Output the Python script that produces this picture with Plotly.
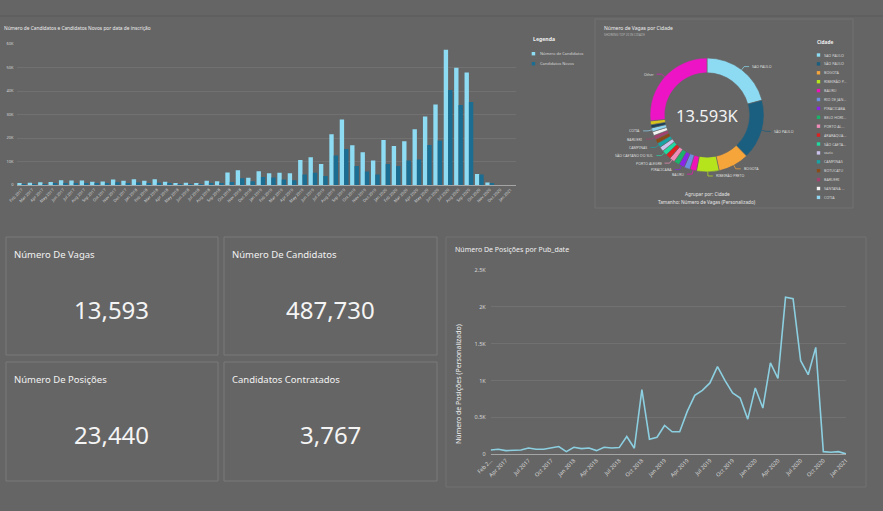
import math
import plotly.graph_objects as go

W, H = 883, 511
BG = "#656565"
FONT = "Noto Sans"
TXT = "#efefef"

# ---------------- data ----------------
months = ["Feb 2017", "Mar 2017", "Apr 2017", "May 2017", "Jun 2017", "Jul 2017", "Aug 2017", "Sep 2017",
          "Oct 2017", "Nov 2017", "Dec 2017", "Jan 2018", "Feb 2018", "Mar 2018", "Apr 2018", "May 2018",
          "Jun 2018", "Jul 2018", "Aug 2018", "Sep 2018", "Oct 2018", "Nov 2018", "Dec 2018", "Jan 2019",
          "Feb 2019", "Mar 2019", "Apr 2019", "May 2019", "Jun 2019", "Jul 2019", "Aug 2019", "Sep 2019",
          "Oct 2019", "Nov 2019", "Dec 2019", "Jan 2020", "Feb 2020", "Mar 2020", "Apr 2020", "May 2020",
          "Jun 2020", "Jul 2020", "Aug 2020", "Sep 2020", "Oct 2020", "Nov 2020", "Dec 2020", "Jan 2021"]

candidatos = [500, 1000, 1200, 1300, 2000, 1900, 1900, 1400, 1500, 2300, 1800, 2400, 1800, 2400, 1400, 800,
              1000, 600, 1800, 1600, 5300, 6300, 3100, 5900, 5000, 5200, 5000, 10600, 11800, 8900, 21600, 27900,
              16900, 13900, 10400, 19100, 16600, 18600, 23700, 29200, 34300, 57600, 49900, 47900, 4700, 1100, 0, 0]
novos = [200, 300, 400, 500, 800, 900, 900, 600, 700, 1200, 900, 1100, 900, 1000, 500, 300,
         300, 200, 700, 800, 1300, 2900, 1600, 3400, 3200, 2300, 2000, 4500, 5200, 3800, 12500, 15300,
         8100, 5700, 4500, 8900, 8100, 10400, 10900, 17000, 18900, 40400, 34000, 35300, 4500, 700, 0, 0]
bar_yticks = [0, 10000, 20000, 30000, 40000, 50000, 60000]
bar_yticktext = ["0", "10K", "20K", "30K", "40K", "50K", "60K"]

posicoes = [59, 68, 50, 59, 59, 86, 68, 68, 86, 105, 36, 95, 77, 86, 50, 95,
            86, 91, 241, 82, 877, 205, 232, 391, 305, 305, 582, 800, 868, 968, 1190, 1000,
            832, 764, 477, 900, 627, 1240, 1030, 2130, 2110, 1270, 1080, 1450, 36, 27, 36, 5]
line_xticks = ["Feb 2017", "Apr 2017", "Jul 2017", "Oct 2017", "Jan 2018", "Apr 2018", "Jul 2018", "Oct 2018",
               "Jan 2019", "Apr 2019", "Jul 2019", "Oct 2019", "Jan 2020", "Apr 2020", "Jul 2020", "Oct 2020",
               "Jan 2021"]
line_xticktext = ["Feb 2..."] + line_xticks[1:]
line_yticks = [0, 500, 1000, 1500, 2000, 2500]
line_yticktext = ["0", "0.5K", "1K", "1.5K", "2K", "2.5K"]

cidades = ["SAO PAULO", "SÃO PAULO", "BOGOTA", "RIBEIRÃO PRETO", "BAURU", "RIO DE JANEIRO", "PIRACICABA",
           "BELO HORIZONTE", "PORTO ALEGRE", "ARARAQUARA", "SÃO CAETANO DO SUL", "vazio", "CAMPINAS",
           "BOTUCATU", "BARUERI", "SANTANA DE PARNAÍBA", "COTIA", "CIDADE 18", "CIDADE 19", "Other"]
vagas = [2830, 2310, 1190, 870, 260, 230, 220, 215, 205, 195, 190, 180, 175, 165, 160, 155, 150, 120, 150, 3623]
cores = ["#8CDBF2", "#1A5F80", "#F5A53A", "#B6E41C", "#EE12B8", "#6D8FE2", "#8A24E6", "#1BB26C",
         "#F08CB8", "#DD2020", "#22D8A0", "#CBC2EE", "#18A4A4", "#8A4B17", "#A4426F", "#F2F2F2",
         "#90D6F0", "#173F5A", "#D9C41E", "#EC14C4"]
rotulos_fatia = ["SAO PAULO", "SÃO PAULO", "BOGOTA", "RIBEIRÃO PRETO", "BAURU", "PIRACICABA",
                 "PORTO ALEGRE", "SÃO CAETANO DO SUL", "CAMPINAS", "BARUERI", "COTIA", "Other"]
legenda_cidade = ["SAO PAULO", "SÃO PAULO", "BOGOTA", "RIBEIRÃO P...", "BAURU", "RIO DE JAN...", "PIRACICABA",
                  "BELO HORI...", "PORTO AL...", "ARARAQUA...", "SÃO CAETA...", "vazio", "CAMPINAS",
                  "BOTUCATU", "BARUERI", "SANTANA ...", "COTIA"]

kpi_titulos = ["Número De Vagas", "Número De Candidatos", "Número De Posições", "Candidatos Contratados"]
kpi_valores = ["13,593", "487,730", "23,440", "3,767"]

LIGHT = "#8DDCF4"
DARK = "#1B6D92"
LINEC = "#8CCFE0"


def px(x):
    return x / W


def py(y):
    return 1 - y / H


fig = go.Figure()

# ---------------- bar chart ----------------
fig.add_trace(go.Bar(x=months, y=candidatos, name="Número de Candidatos", marker_color=LIGHT,
                     marker_line_width=0, xaxis="x", yaxis="y", showlegend=False))
fig.add_trace(go.Bar(x=months, y=novos, name="Candidatos Novos", marker_color=DARK,
                     marker_line_width=0, xaxis="x", yaxis="y", showlegend=False))

# ---------------- line chart ----------------
fig.add_trace(go.Scatter(x=months, y=posicoes, mode="lines", line=dict(color=LINEC, width=1.6),
                         xaxis="x2", yaxis="y2", showlegend=False))

# ---------------- donut ----------------
fig.add_trace(go.Pie(labels=cidades, values=vagas, hole=0.74, sort=False, direction="clockwise",
                     rotation=0, marker=dict(colors=cores, line=dict(color=BG, width=0.6)),
                     textinfo="none", showlegend=False, automargin=False,
                     domain=dict(x=[px(650), px(764)], y=[py(172), py(58)])))

grid = "#717171"
axfont = dict(family=FONT, size=4, color="#d6d6d6")
fig.update_layout(
    width=W, height=H, autosize=False,
    margin=dict(l=0, r=0, t=0, b=0, pad=0),
    paper_bgcolor=BG, plot_bgcolor=BG,
    font=dict(family=FONT, color=TXT),
    barmode="group", bargap=0.16, bargroupgap=0.0,
    xaxis=dict(domain=[px(16.5), px(515.7)], type="category", range=[-0.5, 47.5],
               tickmode="array", tickvals=months, ticktext=months, tickangle=-45,
               tickfont=axfont, showgrid=False, showline=True, linecolor="#a5a5a5", linewidth=1,
               ticks="", anchor="y", automargin=False),
    yaxis=dict(domain=[py(185), py(44)], range=[0, 60000], tickvals=bar_yticks, ticktext=bar_yticktext,
               tickfont=axfont, gridcolor=grid, gridwidth=0.6, zeroline=False, showline=False,
               anchor="x", ticklabelstandoff=2, automargin=False),
    xaxis2=dict(domain=[px(490.7), px(846)], type="category", range=[0, 47],
                tickmode="array", tickvals=line_xticks, ticktext=line_xticktext, tickangle=-45,
                tickfont=dict(family=FONT, size=5.5, color="#d6d6d6"), showgrid=False,
                showline=True, linecolor="#a5a5a5", linewidth=1, ticks="", anchor="y2", automargin=False),
    yaxis2=dict(domain=[py(454.3), py(270)], range=[0, 2500], tickvals=line_yticks,
                ticktext=line_yticktext, tickfont=dict(family=FONT, size=5.5, color="#d6d6d6"),
                gridcolor=grid, gridwidth=0.8, zeroline=False, showline=False, anchor="x2",
                ticklabelstandoff=4, automargin=False),
)

annotations = []
shapes = []


def ann(text, x, y, size, color=TXT, xanchor="left", yanchor="middle", **kw):
    d = dict(text=text, x=px(x), y=py(y), xref="paper", yref="paper", showarrow=False,
             font=dict(family=FONT, size=size, color=color), xanchor=xanchor, yanchor=yanchor)
    d.update(kw)
    annotations.append(d)


def rect(x0, y0, x1, y1, color, fill="rgba(0,0,0,0)", width=1):
    shapes.append(dict(type="rect", xref="paper", yref="paper", x0=px(x0), y0=py(y0), x1=px(x1),
                       y1=py(y1), line=dict(color=color, width=width), fillcolor=fill, layer="below"))


def line(x0, y0, x1, y1, color, width=1):
    shapes.append(dict(type="line", xref="paper", yref="paper", x0=px(x0), y0=py(y0), x1=px(x1),
                       y1=py(y1), line=dict(color=color, width=width)))


# frame lines of the top area
line(0, 16, W, 16, "#5a5a5a", 1)
rect(595, 19, 853, 208, "#727272")

# bar chart title & legend
ann("Número de Candidatos e Candidatos Novos por data de inscrição", 2, 28.5, 4.8)
ann("<b>Legenda</b>", 531, 39, 5.2)
for i, (nm, col) in enumerate([("Número de Candidatos", LIGHT), ("Candidatos Novos", DARK)]):
    yy = 53.7 + i * 10
    shapes.append(dict(type="rect", xref="paper", yref="paper", x0=px(531.7), x1=px(535.2),
                       y0=py(yy + 1.7), y1=py(yy - 1.7), line=dict(width=0), fillcolor=col))
    ann(nm, 537.5, yy, 4.0, "#d8d8d8")

# donut panel texts
ann("Número de Vagas por Cidade", 601.5, 28, 5.0)
ann("SHOWING TOP 20 IN CIDADE", 601.5, 35, 3.0, "#b5b5b5")
ann("13.593K", 707, 115, 16.5, "#f2f2f2", xanchor="center")
ann("Agrupar por: Cidade", 707, 194, 4.7, "#e6e6e6", xanchor="center")
ann("Tamanho: Número de Vagas (Personalizado)", 707, 201.5, 4.7, "#e6e6e6", xanchor="center")

# donut slice labels with leader lines (angles computed from the values)
cx, cy, R = 707, 115, 57
total = sum(vagas)
cum = 0
for nm, v, col in zip(cidades, vagas, cores):
    mid = (cum + v / 2) / total * 2 * math.pi
    cum += v
    if nm not in rotulos_fatia:
        continue
    sx, sy = cx + R * math.sin(mid), cy - R * math.cos(mid)
    ex, ey = cx + (R + 4) * math.sin(mid), cy - (R + 4) * math.cos(mid)
    right = math.degrees(mid) < 180
    hx = ex + (5 if right else -5)
    line(sx, sy, ex, ey, col, 0.7)
    line(ex, ey, hx, ey, col, 0.7)
    ann(nm, hx + (1 if right else -1), ey, 3.6, "#dcdcdc", xanchor="left" if right else "right")

# donut legend
ann("<b>Cidade</b>", 815, 42.5, 4.8)
for i, nm in enumerate(legenda_cidade):
    yy = 55 + i * 8.9
    shapes.append(dict(type="rect", xref="paper", yref="paper", x0=px(816.8), x1=px(820.2),
                       y0=py(yy + 1.7), y1=py(yy - 1.7), line=dict(width=0), fillcolor=cores[i]))
    ann(nm, 821.8, yy, 3.7, "#d4d4d4")

# KPI cards
cards = [(6, 237, 218, 355), (224, 237, 437, 355), (6, 362, 218, 481), (224, 362, 437, 481)]
for (x0, y0, x1, y1), t, v in zip(cards, kpi_titulos, kpi_valores):
    rect(x0, y0, x1, y1, "#7a7a7a")
    ann(t, x0 + 6, y0 + 17, 9.5, "#f2f2f2")
    ann(v, (x0 + x1) / 2, y0 + 72, 24, "#f4f4f4", xanchor="center")

# line chart panel
rect(446, 237, 866, 487, "#727272")
ann("Número De Posições por Pub_date", 452.5, 249.5, 7.0, "#f0f0f0")
ann("Número de Posições (Personalizado)", 458, 384, 7.0, "#f0f0f0", xanchor="center", textangle=-90)

fig.update_layout(annotations=annotations, shapes=shapes)
fig.write_html("out.html")
